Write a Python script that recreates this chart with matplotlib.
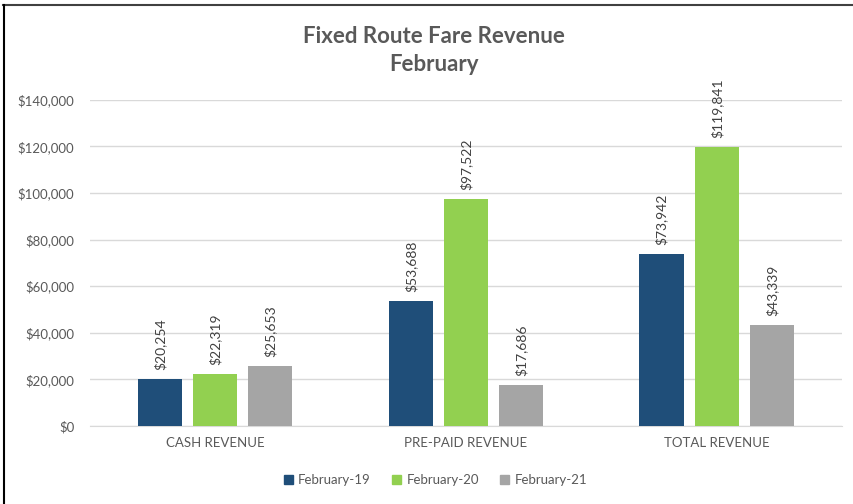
import numpy as np
import matplotlib.pyplot as plt
from matplotlib.ticker import FuncFormatter
from matplotlib.lines import Line2D

plt.rcParams['font.family'] = ['Lato', 'DejaVu Sans']

# data
categories = ['CASH REVENUE', 'PRE-PAID REVENUE', 'TOTAL REVENUE']
series_names = ['February-19', 'February-20', 'February-21']
feb19 = [20254, 53688, 73942]
feb20 = [22319, 97522, 119841]
feb21 = [25653, 17686, 43339]
colors = ['#1F4E79', '#92D050', '#A5A5A5']
text_col = '#595959'

fig = plt.figure(figsize=(8.54, 5.04), dpi=100)
ax = fig.add_axes([0.105, 0.155, 0.881, 0.647])

x = np.arange(len(categories))
width = 0.176
offs = [-0.22, 0.0, 0.22]
for vals, off, col, name in zip([feb19, feb20, feb21], offs, colors, series_names):
    bars = ax.bar(x + off, vals, width, color=col, label=name, zorder=3)
    for b, v in zip(bars, vals):
        ax.text(b.get_x() + b.get_width() / 2, v + 3800, f'${v:,}',
                rotation=90, ha='center', va='bottom', fontsize=10,
                color='#404040', clip_on=False)

ax.set_xlim(-0.5, 2.5)
ax.set_ylim(0, 140000)
ax.set_yticks(np.arange(0, 140001, 20000))
ax.yaxis.set_major_formatter(FuncFormatter(lambda v, p: f'${v:,.0f}'))
ax.set_xticks(x)
ax.set_xticklabels(categories)
ax.tick_params(axis='both', length=0, labelsize=9.5, labelcolor=text_col)
ax.tick_params(axis='y', pad=11)
ax.tick_params(axis='x', pad=8)
ax.grid(axis='y', color='#D9D9D9', linewidth=1, zorder=0)
for s in ['top', 'right', 'left']:
    ax.spines[s].set_visible(False)
ax.spines['bottom'].set_color('#D9D9D9')

fig.text(0.508, 0.90, 'Fixed Route Fare Revenue\nFebruary', ha='center', va='center',
         fontsize=16, fontweight='bold', color=text_col, linespacing=1.45)

handles = [plt.Rectangle((0, 0), 1, 1, color=c) for c in colors]
fig.legend(handles, series_names, loc='center', bbox_to_anchor=(0.51, 0.048), ncol=3,
           frameon=False, fontsize=9.5, labelcolor=text_col, handlelength=0.7,
           handleheight=0.7, handletextpad=0.4, columnspacing=1.6)

# outer border (top and left)
fig.add_artist(Line2D([0.004, 1.0], [0.99, 0.99], transform=fig.transFigure, color='#404040', linewidth=1.5))
fig.add_artist(Line2D([0.005, 0.005], [0.0, 0.99], transform=fig.transFigure, color='black', linewidth=1.5))

fig.savefig('out.png', dpi=100)
